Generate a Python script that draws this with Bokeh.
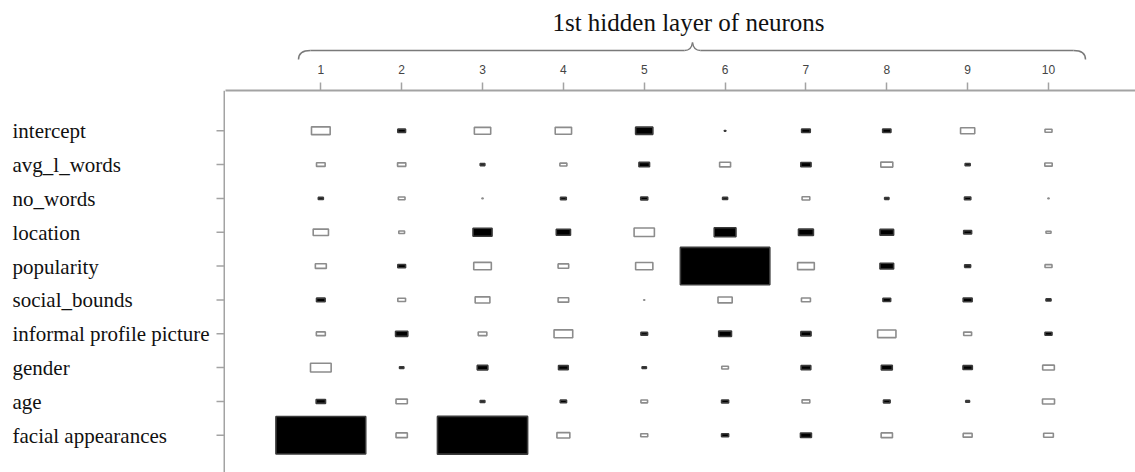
from bokeh.plotting import figure
from bokeh.layouts import column, row
from bokeh.models import Range1d, FixedTicker, ColumnDataSource, Span
from bokeh.core.properties import value
from bokeh.embed import file_html
from bokeh.resources import INLINE

# ---------------- data ----------------
variables = ["intercept", "avg_l_words", "no_words", "location", "popularity",
             "social_bounds", "informal profile picture", "gender", "age",
             "facial appearances"]
neurons = [1, 2, 3, 4, 5, 6, 7, 8, 9, 10]
title_text = "1st hidden layer of neurons"

# connection weights (negative = black box, positive = white box)
w_intercept = [1.04, -0.43, 0.91, 0.91, -0.96, -0.09, -0.48, -0.46, 0.79, 0.39]
w_avg_l_words = [0.48, 0.46, -0.26, 0.39, -0.59, 0.61, -0.57, 0.67, -0.28, 0.41]
w_no_words = [-0.28, 0.37, 0.07, -0.32, -0.39, -0.28, 0.43, -0.24, -0.35, 0.07]
w_location = [0.85, 0.32, -1.06, -0.79, 1.13, -1.21, -0.83, -0.76, -0.44, 0.28]
w_popularity = [0.61, -0.43, 0.98, 0.59, 0.96, -4.98, 0.93, -0.76, -0.33, 0.39]
w_social_bounds = [-0.48, 0.43, 0.82, 0.59, 0.06, 0.79, 0.50, -0.43, -0.50, -0.28]
w_informal = [0.50, -0.68, 0.48, 1.04, -0.37, -0.71, -0.57, 1.02, 0.44, -0.39]
w_gender = [1.15, -0.24, -0.59, -0.54, -0.24, 0.37, -0.54, -0.61, -0.52, 0.65]
w_age = [-0.52, 0.63, -0.26, -0.35, 0.37, -0.39, 0.43, -0.37, -0.21, 0.67]
w_facial = [-5.00, 0.63, -5.02, 0.72, 0.39, -0.39, -0.61, 0.63, 0.50, 0.54]

weights = [w_intercept, w_avg_l_words, w_no_words, w_location, w_popularity,
           w_social_bounds, w_informal, w_gender, w_age, w_facial]

# ---------------- build table ----------------
max_abs = max(abs(w) for r in weights for w in r)
scale = 1.115 / max_abs
xs, ys, sizes, fills, lines = [], [], [], [], []
for i, roww in enumerate(weights):
    for j, w in enumerate(roww):
        xs.append(neurons[j])
        ys.append(i)
        sizes.append(abs(w) * scale)
        fills.append("black" if w < 0 else "white")
        lines.append("#3a3a3a" if w < 0 else "#8c8c8c")
src = ColumnDataSource(dict(x=xs, y=ys, size=sizes, fill=fills, line=lines))
rows_idx = list(range(len(variables)))

AX = "#a3a3a3"

# ---------------- main hinton plot ----------------
y_range = Range1d(10.10, -1.19)
main = figure(width=910, height=412, x_range=Range1d(-0.179, 11.076), y_range=y_range,
              x_axis_location="above", y_axis_location=None,
              output_backend="svg", toolbar_location=None,
              min_border_left=0, min_border_top=30, min_border_right=0, min_border_bottom=0,
              background_fill_color="white", border_fill_color="white")
main.outline_line_color = None
main.xgrid.visible = False
main.ygrid.visible = False
main.rect(x="x", y="y", width="size", height="size", source=src,
          fill_color="fill", line_color="line", line_width=1.6)

xa = main.xaxis[0]
xa.ticker = FixedTicker(ticks=neurons)
xa.axis_line_color = AX
xa.axis_line_width = 2
xa.major_tick_line_color = AX
xa.major_tick_line_width = 1.5
xa.major_tick_out = 8
xa.major_tick_in = 0
xa.minor_tick_line_color = None
xa.major_label_text_font = "Liberation Sans"
xa.major_label_text_font_size = "12px"
xa.major_label_text_color = "#444444"
xa.major_label_standoff = 9

# ---------------- row labels (left aligned) + left axis line/ticks ----------------
labels = figure(width=225, height=412, x_range=Range1d(0, 225), y_range=y_range,
                x_axis_location=None, y_axis_location=None, output_backend="svg",
                toolbar_location=None, min_border_left=0, min_border_right=0,
                min_border_top=30, min_border_bottom=0,
                background_fill_color="white", border_fill_color="white")
labels.outline_line_color = None
labels.xgrid.visible = False
labels.ygrid.visible = False
labels.add_layout(Span(location=224, dimension="height", line_color=AX, line_width=2))
labels.segment(x0=[216] * len(rows_idx), x1=[224] * len(rows_idx), y0=rows_idx, y1=rows_idx,
               line_color=AX, line_width=1.5)
labels.text(x=[12] * len(variables), y=rows_idx, text=variables,
            text_font=value("Liberation Serif"), text_font_size="21px",
            text_color="#111111", text_align="left", text_baseline="alphabetic",
            y_offset=0.5)

# ---------------- title with brace ----------------
top = figure(width=1135, height=60, x_range=Range1d(0, 1135), y_range=Range1d(60, 0),
             x_axis_location=None, y_axis_location=None, output_backend="svg",
             toolbar_location=None, min_border=0,
             background_fill_color="white", border_fill_color="white")
top.outline_line_color = None
top.xgrid.visible = False
top.ygrid.visible = False
BR = "#7a7a7a"
top.multi_line(xs=[[310, 684], [700, 1073]], ys=[[50, 50], [50, 50]],
               line_color=BR, line_width=1.5)
top.quadratic(x0=[298, 684, 692, 1073], y0=[59, 50, 42, 50],
              x1=[310, 692, 700, 1085], y1=[50, 42, 50, 59],
              cx=[298, 691, 693, 1085], cy=[50, 50, 50, 50],
              line_color=BR, line_width=1.5)
top.text(x=[688], y=[21.5], text=[title_text], text_font=value("Liberation Serif"),
         text_font_size="25px", text_color="#111111", text_align="center",
         text_baseline="alphabetic")

layout = column(top, row(labels, main, spacing=0), spacing=0)
open("out.html", "w").write(file_html(layout, INLINE))
